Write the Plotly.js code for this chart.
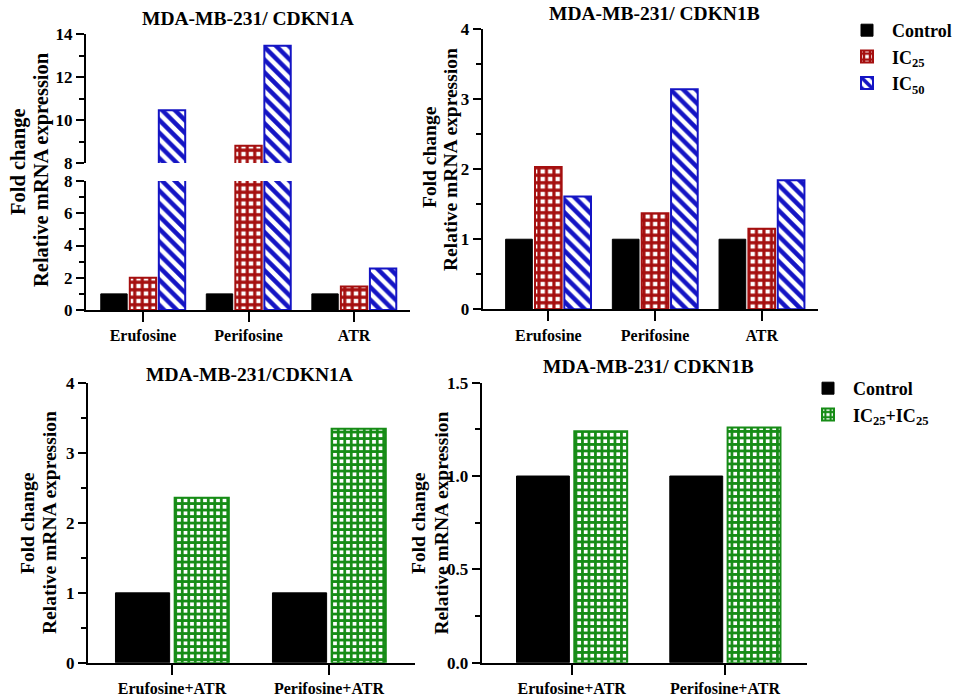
<!DOCTYPE html>
<html>
<head>
<meta charset="utf-8">
<script src="https://cdn.plot.ly/plotly-3.0.1.min.js"></script>
<style>html,body{margin:0;padding:0;background:#fff;}#chart{width:961px;height:696px;}</style>
</head>
<body>
<div id="chart"></div>
<script>
// ---------- data ----------
const singleCategories = ['Erufosine', 'Perifosine', 'ATR'];
const cdkn1aControl = [1, 1, 1];
const cdkn1aIC25 = [2.0, 8.8, 1.45];
const cdkn1aIC50 = [10.45, 13.45, 2.58];
const cdkn1bControl = [1, 1, 1];
const cdkn1bIC25 = [2.03, 1.37, 1.15];
const cdkn1bIC50 = [1.61, 3.14, 1.84];

const comboCategories = ['Erufosine+ATR', 'Perifosine+ATR'];
const comboCdkn1aControl = [1, 1];
const comboCdkn1aIC = [2.36, 3.35];
const comboCdkn1bControl = [1, 1];
const comboCdkn1bIC = [1.24, 1.26];

const seriesNames = ['Control', 'IC<sub>25</sub>', 'IC<sub>50</sub>', 'IC<sub>25</sub>+IC<sub>25</sub>'];

// ---------- styles ----------
const FONT = 'Liberation Serif, Times New Roman, serif';
const RED = '#a50f0f', BLUE = '#1414c4', GREEN = '#168c16';
const styleControl = {color: '#000000', line: {color: '#000000', width: 1}};
const styleIC25 = {color: RED, line: {color: RED, width: 2},
  pattern: {shape: '+', fgcolor: RED, bgcolor: '#ffffff', size: 7.5, solidity: 0.66, fillmode: 'replace'}};
const styleIC50 = {color: BLUE, line: {color: BLUE, width: 2},
  pattern: {shape: '\\', fgcolor: BLUE, bgcolor: '#ffffff', size: 9, solidity: 0.5, fillmode: 'replace'}};
const styleCombo = {color: GREEN, line: {color: GREEN, width: 2},
  pattern: {shape: '+', fgcolor: GREEN, bgcolor: '#ffffff', size: 6.5, solidity: 0.66, fillmode: 'replace'}};

function bar(x, y, xa, ya, marker, offset, width, name, opts) {
  return Object.assign({
    type: 'bar', x: x, y: y, xaxis: xa, yaxis: ya, marker: marker,
    offset: offset, width: width, name: name, showlegend: false, hoverinfo: 'x+y'
  }, opts || {});
}

const off3 = [-0.40, -0.125, 0.15], w3 = 0.25;
const off2 = [-0.36, 0.017], w2 = 0.345;

const traces = [];
// top-left, drawn on both segments of the broken axis
['y', 'y2'].forEach(function (ya) {
  traces.push(bar(singleCategories, cdkn1aControl, 'x', ya, styleControl, off3[0], w3, seriesNames[0]));
  traces.push(bar(singleCategories, cdkn1aIC25, 'x', ya, styleIC25, off3[1], w3, seriesNames[1]));
  traces.push(bar(singleCategories, cdkn1aIC50, 'x', ya, styleIC50, off3[2], w3, seriesNames[2]));
});
// top-right
traces.push(bar(singleCategories, cdkn1bControl, 'x2', 'y3', styleControl, off3[0], w3, seriesNames[0], {showlegend: true, legend: 'legend', legendgroup: 'a'}));
traces.push(bar(singleCategories, cdkn1bIC25, 'x2', 'y3', styleIC25, off3[1], w3, seriesNames[1], {showlegend: true, legend: 'legend', legendgroup: 'b'}));
traces.push(bar(singleCategories, cdkn1bIC50, 'x2', 'y3', styleIC50, off3[2], w3, seriesNames[2], {showlegend: true, legend: 'legend', legendgroup: 'c'}));
// bottom-left
traces.push(bar(comboCategories, comboCdkn1aControl, 'x3', 'y4', styleControl, off2[0], w2, seriesNames[0]));
traces.push(bar(comboCategories, comboCdkn1aIC, 'x3', 'y4', styleCombo, off2[1], w2, seriesNames[3]));
// bottom-right
traces.push(bar(comboCategories, comboCdkn1bControl, 'x4', 'y5', styleControl, off2[0], w2, seriesNames[0], {showlegend: true, legend: 'legend2', legendgroup: 'd'}));
traces.push(bar(comboCategories, comboCdkn1bIC, 'x4', 'y5', styleCombo, off2[1], w2, seriesNames[3], {showlegend: true, legend: 'legend2', legendgroup: 'e'}));

// ---------- layout helpers ----------
const W = 961, H = 696;
const px = v => v / W;
const py = v => 1 - v / H;

function xAxis(d0, d1, range, anchor) {
  return {
    domain: [px(d0), px(d1)], range: range, anchor: anchor, type: 'category',
    showline: true, linecolor: '#000', linewidth: 2, mirror: false,
    ticks: 'outside', ticklen: 10, tickwidth: 2, tickcolor: '#000',
    showgrid: false, zeroline: false, fixedrange: true,
    tickfont: {family: FONT, size: 16, color: '#000', weight: 700}
  };
}
function yAxis(top, bottom, range, dtick, minorDtick, anchor, fmt) {
  return {
    domain: [py(bottom), py(top)], range: range, anchor: anchor,
    tickmode: 'linear', tick0: 0, dtick: dtick, tickformat: fmt || '',
    showline: true, linecolor: '#000', linewidth: 2,
    ticks: 'outside', ticklen: 8, tickwidth: 2, tickcolor: '#000',
    minor: {dtick: minorDtick, ticks: 'outside', ticklen: 5, tickwidth: 2, tickcolor: '#000', showgrid: false},
    showgrid: false, zeroline: false, fixedrange: true,
    tickfont: {family: FONT, size: 17, color: '#000', weight: 700}
  };
}
function textAnn(text, x, y, size, angle) {
  return {text: text, xref: 'paper', yref: 'paper', x: px(x), y: py(y),
    xanchor: 'center', yanchor: 'middle', showarrow: false, textangle: angle || 0,
    font: {family: FONT, size: size, color: '#000', weight: 700}};
}

const layout = {
  width: W, height: H,
  margin: {l: 0, r: 0, t: 0, b: 0},
  paper_bgcolor: '#fff', plot_bgcolor: '#fff',
  barmode: 'overlay',
  font: {family: FONT, color: '#000'},
  xaxis: xAxis(86, 410, [-0.54, 2.53], 'y'),
  yaxis: yAxis(181, 310, [0, 8], 2, 1, 'x'),
  yaxis2: yAxis(34, 163, [8, 14], 2, 1, 'x'),
  xaxis2: xAxis(482.7, 818.3, [-0.615, 2.53], 'y3'),
  yaxis3: yAxis(29, 309.3, [0, 4], 1, 0.5, 'x2'),
  xaxis3: xAxis(88, 415, [-0.535, 1.548], 'y4'),
  yaxis4: yAxis(383.3, 662.7, [0, 4], 1, 0.5, 'x3'),
  xaxis4: xAxis(481.7, 806.7, [-0.587, 1.533], 'y5'),
  yaxis5: yAxis(382.7, 662.7, [0, 1.5], 0.5, 0.25, 'x4', '.1f'),
  legend: {x: px(842), y: py(12), xanchor: 'left', yanchor: 'top', bgcolor: 'rgba(0,0,0,0)',
    itemwidth: 40, tracegroupgap: 14, traceorder: 'normal',
    font: {family: FONT, size: 18, color: '#000', weight: 700}},
  legend2: {x: px(803), y: py(370), xanchor: 'left', yanchor: 'top', bgcolor: 'rgba(0,0,0,0)',
    itemwidth: 40, tracegroupgap: 30, traceorder: 'normal',
    font: {family: FONT, size: 18, color: '#000', weight: 700}},
  annotations: [
    textAnn('MDA-MB-231/ CDKN1A', 248, 19, 19.5),
    textAnn('MDA-MB-231/ CDKN1B', 654, 14, 19.5),
    textAnn('MDA-MB-231/CDKN1A', 250, 374, 19.5),
    textAnn('MDA-MB-231/ CDKN1B', 648, 366, 19.5),
    textAnn('Fold change', 19, 162, 20.5, -90),
    textAnn('Relative mRNA expression', 42, 170, 20.5, -90),
    textAnn('Fold change', 430, 157, 19.5, -90),
    textAnn('Relative mRNA expression', 451, 160, 19.5, -90),
    textAnn('Fold change', 27, 523, 19.5, -90),
    textAnn('Relative mRNA expression', 49, 523, 19.5, -90),
    textAnn('Fold change', 418, 523, 19.5, -90),
    textAnn('Relative mRNA expression', 440.5, 523, 19.5, -90)
  ]
};

Plotly.newPlot('chart', traces, layout, {displayModeBar: false, staticPlot: true});
</script>
</body>
</html>
